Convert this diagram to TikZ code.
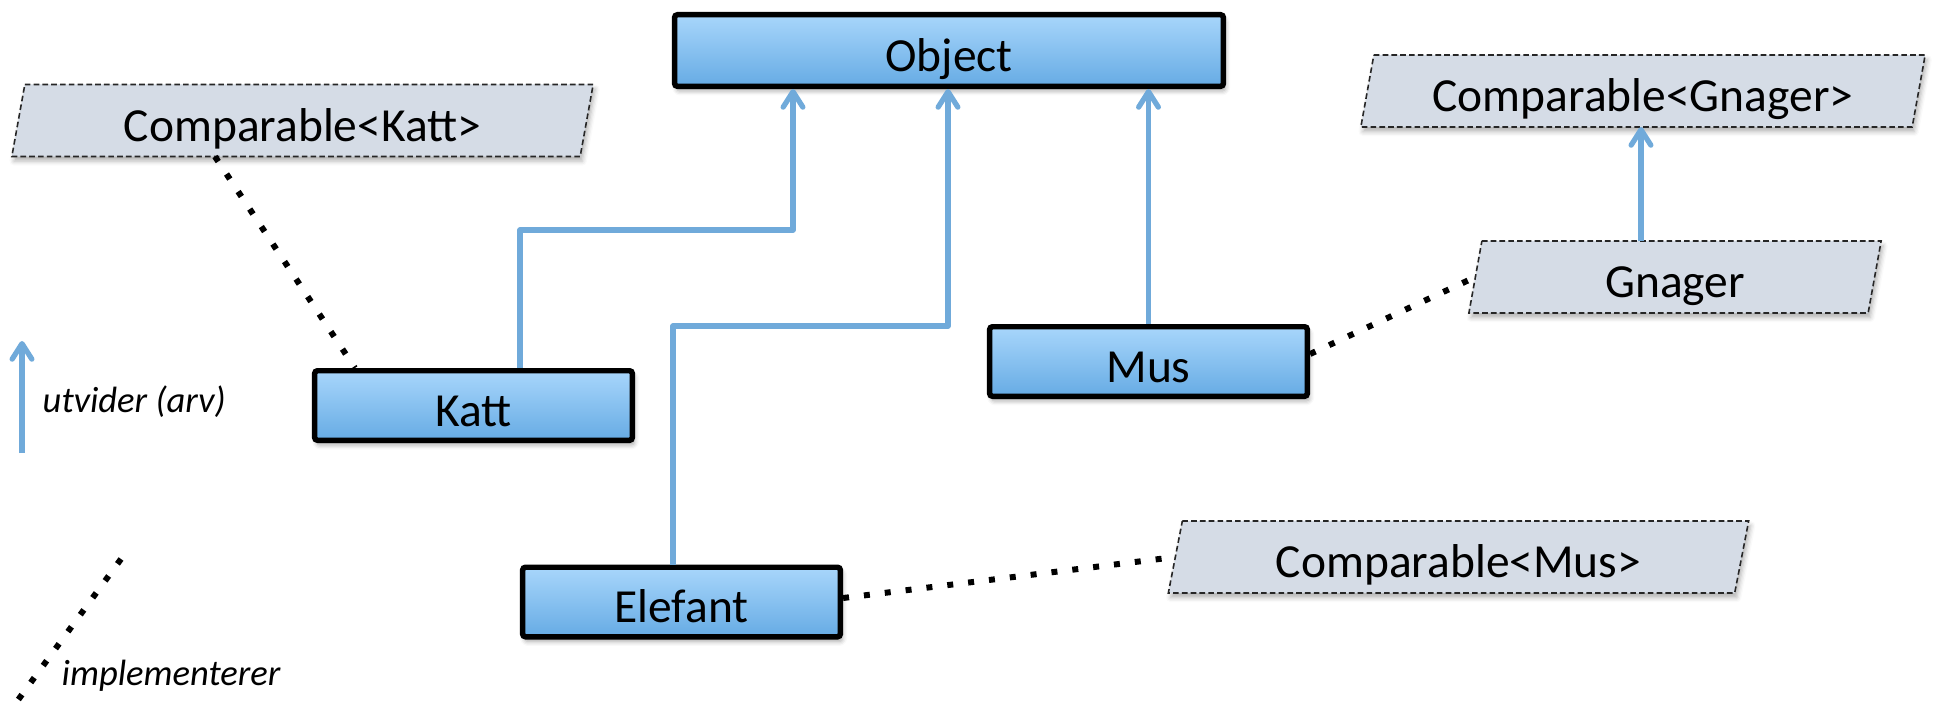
\documentclass[tikz,border=0pt]{standalone}
\usepackage{fontspec}
\setmainfont{Carlito}
\usetikzlibrary{arrows.meta,shadows.blur,backgrounds}

\definecolor{boxtop}{RGB}{168,214,251}
\definecolor{boxbot}{RGB}{102,171,228}
\definecolor{inhblue}{RGB}{112,170,218}
\definecolor{parafill}{RGB}{213,220,230}

% slanted interface outline drawn round a named text node
\newcommand\paragram[2]{%
  \path[para] ([xshift=#2]#1.north west) -- ([xshift=#2]#1.north east)
    -- ([xshift=-#2]#1.south east) -- ([xshift=-#2]#1.south west) -- cycle;}

\begin{document}
\begin{tikzpicture}[x=0.01cm,y=-0.01cm,
  boxtext/.style={font=\fontsize{13.5pt}{15pt}\selectfont,
    text height=1.25em, text depth=0.08em},
  cls/.style={boxtext, draw=black, line width=1.56pt, rounded corners=0.8pt,
    top color=boxtop, bottom color=boxbot, inner sep=0pt,
    minimum width=3.175cm, minimum height=0.695cm,
    blur shadow={shadow xshift=0.6pt, shadow yshift=-1.3pt,
      shadow blur radius=1.3pt, shadow opacity=35}},
  iface/.style={boxtext, inner sep=0pt, outer sep=0pt, minimum height=0.72cm},
  para/.style={fill=parafill, draw=black!85, line width=0.45pt,
    dash pattern=on 1.6pt off 0.9pt,
    blur shadow={shadow xshift=0.6pt, shadow yshift=-1.3pt,
      shadow blur radius=1.3pt, shadow opacity=30}},
  inh/.style={draw=inhblue, line width=1.5pt, line join=round,
    -{Straight Barb[length=4.4pt,width=5.6pt,round]}},
  impl/.style={draw=black, line width=1.7pt, dash pattern=on 1.7pt off 4.27pt},
  legendtext/.style={font=\fontsize{10.4pt}{12pt}\selectfont\itshape,
    inner sep=0pt, anchor=base west}
]
\useasboundingbox (0,0) rectangle (1933,702);

% classes
\node[cls, minimum width=5.485cm, minimum height=0.715cm] (obj) at (949,50.5) {Object};
\node[cls] (katt) at (473.5,405.5) {Katt};
\node[cls] (mus)  at (1148.5,361.5) {Mus};
\node[cls] (elef) at (681.5,602) {Elefant};

% interfaces
\node[iface, minimum width=5.68cm] (ck)  at (302.5,120.5) {Comparable<Katt>};
\node[iface, minimum width=5.51cm] (cgn) at (1643,91) {Comparable<Gnager>};
\node[iface, minimum width=3.99cm] (gn)  at (1675,277) {Gnager};
\node[iface, minimum width=5.66cm] (cm)  at (1458.5,557) {Comparable<Mus>};

\begin{pgfonlayer}{background}
  \paragram{ck}{0.065cm}
  \paragram{cgn}{0.065cm}
  \paragram{gn}{0.065cm}
  \paragram{cm}{0.07cm}
\end{pgfonlayer}

% inheritance
\coordinate (kattbend) at (793,230);
\coordinate (elefbend) at (948,326);
\draw[inh] ([xshift=0.465cm]katt.north) |- (kattbend) -- (kattbend |- obj.south);
\draw[inh] ([xshift=-0.085cm]elef.north) |- (elefbend) -- (elefbend |- obj.south);
\draw[inh] (mus.north) -- (mus.north |- obj.south);
\draw[inh] ([xshift=-0.34cm]gn.north) -- ([xshift=-0.34cm]gn.north |- cgn.south);

% implementation
\draw[impl] ([xshift=-0.875cm]ck.south) -- ([xshift=-1.185cm]katt.north);
\draw[impl] ([yshift=0.075cm]mus.east) -- (gn.west);
\draw[impl] ([yshift=0.04cm]elef.east) -- (cm.west);

% legend
\coordinate (arvtail) at (22,453);
\coordinate (arvhead) at (22,341);
\draw[inh] (arvtail) -- (arvhead);
\node[legendtext] (arvtxt) at (42,412) {utvider (arv)};
\coordinate (impA) at (121,559);
\coordinate (impB) at (18,700);
\draw[impl] (impA) -- (impB);
\node[legendtext] (imptxt) at (61,685) {implementerer};
\end{tikzpicture}
\end{document}
